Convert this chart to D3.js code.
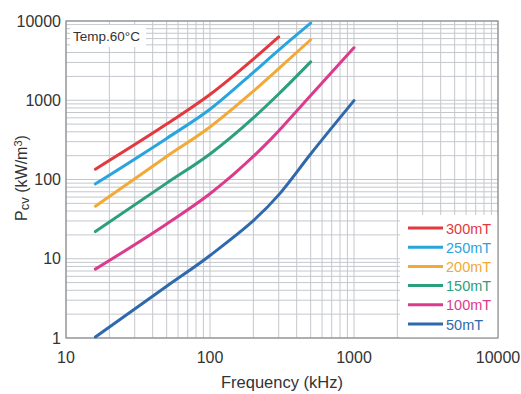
<!DOCTYPE html>
<html>
<head>
<meta charset="utf-8">
<script src="https://cdn.jsdelivr.net/npm/d3@7"></script>
<style>
  body { margin: 0; background: #fff; }
  text { font-family: "Liberation Sans", Arial, sans-serif; fill: #333; }
</style>
</head>
<body>
<svg id="chart" width="521" height="394"></svg>
<script>
// series data: [frequency kHz, Pcv kW/m3]
const labels = ["300mT", "250mT", "200mT", "150mT", "100mT", "50mT"];
const colors = ["#e2393f", "#29a5de", "#f2a935", "#2b9f7e", "#dc3b8d", "#2f69ad"];

const p300 = [[16, 135], [50, 500], [100, 1180], [200, 3300], [300, 6300]];
const p250 = [[16, 88], [50, 330], [100, 770], [200, 2250], [300, 4300], [500, 9400]];
const p200 = [[16, 46], [50, 195], [100, 460], [200, 1300], [300, 2500], [500, 5800]];
const p150 = [[16, 22], [50, 90], [100, 210], [200, 600], [300, 1200], [500, 3050]];
const p100 = [[16, 7.4], [50, 27.5], [100, 66], [268, 330], [500, 1150], [1000, 4600]];
const p50 = [[16, 1.03], [50, 4.5], [100, 11], [300, 64], [500, 210], [1000, 990]];
const series = [p300, p250, p200, p150, p100, p50];

const xTicks = [10, 100, 1000, 10000];
const yTicks = [1, 10, 100, 1000, 10000];

const svg = d3.select("#chart");
const margin = { left: 66, top: 21, right: 23, bottom: 56 };
const W = 521, H = 394;

const x = d3.scaleLog().domain([10, 10000]).range([margin.left, W - margin.right]);
const y = d3.scaleLog().domain([1, 10000]).range([H - margin.bottom, margin.top]);

// minor grid values 1..9 per decade
const gridVals = (lo, hi) => {
  const out = [];
  for (let d = lo; d < hi; d *= 10) {
    for (let k = 1; k < 10; k++) out.push(d * k);
  }
  out.push(hi);
  return out;
};

const g = svg.append("g");

// GRID
g.selectAll(".vgrid")
  .data(gridVals(10, 10000))
  .enter()
  .append("line")
  .attr("x1", (d) => x(d))
  .attr("x2", (d) => x(d))
  .attr("y1", y(1))
  .attr("y2", y(10000))
  .attr("stroke", "#c4c7cc")
  .attr("stroke-width", 1);

g.selectAll(".hgrid")
  .data(gridVals(1, 10000))
  .enter()
  .append("line")
  .attr("x1", x(10))
  .attr("x2", x(10000))
  .attr("y1", (d) => y(d))
  .attr("y2", (d) => y(d))
  .attr("stroke", "#c4c7cc")
  .attr("stroke-width", 1);

// Temp label box
g.append("rect")
  .attr("x", 70).attr("y", 25).attr("width", 76).attr("height", 22)
  .attr("fill", "#fff");
g.append("text")
  .attr("x", 73).attr("y", 41)
  .attr("font-size", 13.5)
  .text("Temp.60°C");

// legend box (covers grid)
g.append("rect")
  .attr("x", 400).attr("y", 215)
  .attr("width", x(10000) - 400).attr("height", y(1) - 215)
  .attr("fill", "#fff");

// frame
g.append("rect")
  .attr("x", x(10)).attr("y", y(10000))
  .attr("width", x(10000) - x(10)).attr("height", y(1) - y(10000))
  .attr("fill", "none")
  .attr("stroke", "#8a8c90")
  .attr("stroke-width", 1.2);

// CURVES
const line = d3.line()
  .x((d) => x(d[0]))
  .y((d) => y(d[1]))
  .curve(d3.curveMonotoneX);

g.selectAll(".curve")
  .data(series)
  .enter()
  .append("path")
  .attr("d", line)
  .attr("fill", "none")
  .attr("stroke", (d, i) => colors[i])
  .attr("stroke-width", 3)
  .attr("stroke-linecap", "round");

// LEGEND
const leg = g.selectAll(".leg")
  .data(labels)
  .enter()
  .append("g")
  .attr("transform", (d, i) => `translate(408, ${228 + i * 19.2})`);
leg.append("line")
  .attr("x1", 0).attr("x2", 35)
  .attr("stroke", (d, i) => colors[i])
  .attr("stroke-width", 3);
leg.append("text")
  .attr("x", 38).attr("y", 5.5)
  .attr("font-size", 14.5)
  .style("fill", (d, i) => colors[i])
  .text((d) => d);

// AXIS LABELS
g.selectAll(".xt")
  .data(xTicks)
  .enter()
  .append("text")
  .attr("x", (d) => x(d))
  .attr("y", y(1) + 25)
  .attr("text-anchor", "middle")
  .attr("font-size", 16)
  .text((d) => d);

g.selectAll(".yt")
  .data(yTicks)
  .enter()
  .append("text")
  .attr("x", x(10) - 5)
  .attr("y", (d) => y(d) + 5.5)
  .attr("text-anchor", "end")
  .attr("font-size", 16)
  .text((d) => d);

g.append("text")
  .attr("x", 282).attr("y", 388)
  .attr("text-anchor", "middle")
  .attr("font-size", 16.5)
  .text("Frequency (kHz)");

const yt = g.append("text")
  .attr("transform", "translate(27,178) rotate(-90)")
  .attr("text-anchor", "middle")
  .attr("font-size", 16);
yt.append("tspan").text("P");
yt.append("tspan").attr("font-size", 13).attr("dy", 2).text("cv");
yt.append("tspan").attr("dy", -2).text(" (kW/m");
yt.append("tspan").attr("font-size", 11).attr("dy", -5).text("3");
yt.append("tspan").attr("dy", 5).text(")");
</script>
</body>
</html>
